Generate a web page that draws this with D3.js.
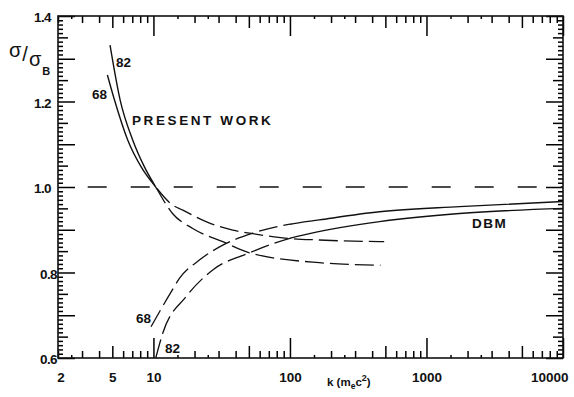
<!DOCTYPE html>
<html>
<head>
<meta charset="utf-8">
<script src="https://cdn.jsdelivr.net/npm/d3@7"></script>
<style>
  html, body { margin: 0; padding: 0; background: #fff; }
  svg { display: block; }
  text { font-family: "Liberation Sans", Arial, sans-serif; fill: #111; }
</style>
</head>
<body>
<svg id="chart" width="574" height="397"></svg>
<script>
// Cross-section ratio sigma/sigma_B versus photon energy k (in m_e c^2 units)

// Present work, Z = 68 and Z = 82 (solid below kSplitPW, dashed above)
const pw68K = [4.6, 5.18, 6.48, 8.13, 10.4, 13.8, 16.4, 24.3, 38.1, 50.5, 88.6, 164, 490];
const pw68S = [1.262, 1.204, 1.110, 1.047, 1.0, 0.958, 0.946, 0.919, 0.899, 0.892, 0.881, 0.876, 0.872];
const pw82K = [4.81, 5.70, 7.05, 8.59, 10.4, 13.8, 19.4, 32.2, 50.5, 164, 271, 460];
const pw82S = [1.332, 1.204, 1.110, 1.047, 1.0, 0.938, 0.903, 0.872, 0.846, 0.823, 0.819, 0.817];
const kSplitPW = 10.4;

// DBM, Z = 68 and Z = 82 (dashed below kSplitDBM, solid above)
const dbm68K = [9.6, 13.8, 15.5, 21.7, 32.2, 53.4, 100, 164, 453, 1746, 10000];
const dbm68S = [0.673, 0.760, 0.786, 0.829, 0.864, 0.892, 0.913, 0.923, 0.942, 0.954, 0.966];
const dbm82K = [10.4, 11.7, 17.3, 27.2, 50.5, 100, 139, 453, 1746, 10000];
const dbm82S = [0.600, 0.658, 0.743, 0.806, 0.846, 0.880, 0.891, 0.919, 0.938, 0.950];
const kSplitDBM = 100;

// Reference level sigma/sigma_B = 1
const refLevel = [1.0];

// Axis labels
const xLabelValues = [2, 5, 10, 100, 1000, 10000];
const yLabelValues = [0.6, 0.8, 1.0, 1.2, 1.4];

const width = 574, height = 397;
const margin = { top: 16, right: 11, bottom: 39, left: 58 };
const svg = d3.select("#chart");

const x = d3.scaleLog().domain([2, 10000]).range([margin.left, width - margin.right]);
const y = d3.scaleLinear().domain([0.6, 1.4]).range([height - margin.bottom, margin.top]);

const x0 = margin.left, x1 = width - margin.right;
const y0 = height - margin.bottom, y1 = margin.top;

// ---- tick classes on the log axis ----
const decades = [1, 10, 100, 1000];
const inX = v => v >= 2 - 1e-9 && v <= 10000 + 1e-9;
const xMajor = [], xMid = [], xMinor = [], xTiny = [];
decades.forEach(d => {
  [1, 2, 3, 4, 5, 6, 7, 8, 9, 1.5, 2.5].forEach(m => {
    const v = m * d;
    if (!inX(v)) return;
    if (m === 1) xMajor.push(v);
    else if (m === 5) xMid.push(v);
    else if (m === 1.5 || m === 2.5) xTiny.push(v);
    else xMinor.push(v);
  });
});
xMajor.push(10000);

// ---- tick classes on the linear axis ----
const yMajor = [], yMid = [], yMinor = [];
for (let i = 60; i <= 140; i++) {
  const v = i / 100;
  if (i % 10 === 0) yMajor.push(v);
  else if (i % 5 === 0) yMid.push(v);
  else yMinor.push(v);
}

const tickGroups = svg.append("g").attr("class", "ticks");
function xTicks(vals, len) {
  tickGroups.append("g").attr("transform", `translate(0,${y0})`)
    .call(d3.axisBottom(x).tickValues(vals).tickSizeInner(-len).tickSizeOuter(0).tickFormat(""));
  tickGroups.append("g").attr("transform", `translate(0,${y1})`)
    .call(d3.axisTop(x).tickValues(vals).tickSizeInner(-len).tickSizeOuter(0).tickFormat(""));
}
function yTicks(vals, len) {
  tickGroups.append("g").attr("transform", `translate(${x0},0)`)
    .call(d3.axisLeft(y).tickValues(vals).tickSizeInner(-len).tickSizeOuter(0).tickFormat(""));
  tickGroups.append("g").attr("transform", `translate(${x1},0)`)
    .call(d3.axisRight(y).tickValues(vals).tickSizeInner(-len).tickSizeOuter(0).tickFormat(""));
}
xTicks(xMajor, 20);
xTicks(xMid, 12);
xTicks(xMinor, 7);
xTicks(xTiny, 3);
yTicks(yMajor, 17);
yTicks(yMid, 10);
yTicks(yMinor, 5);
tickGroups.selectAll(".domain").remove();
tickGroups.selectAll("line").attr("stroke", "#000").attr("stroke-width", 1.5);

// Frame
svg.append("rect")
  .attr("x", x0).attr("y", y1)
  .attr("width", x1 - x0).attr("height", y0 - y1)
  .attr("fill", "none").attr("stroke", "#111").attr("stroke-width", 1.6);

// ---- tick labels ----
const xl = svg.append("g").attr("transform", `translate(0,${y0})`)
  .call(d3.axisBottom(x).tickValues(xLabelValues).tickSize(0).tickFormat(d3.format("d")));
xl.select(".domain").remove();
xl.selectAll("text")
  .attr("y", 24).attr("dy", 0)
  .attr("font-size", 13.5).attr("font-weight", "bold")
  .attr("font-family", "Liberation Sans, Arial, sans-serif")
  .attr("fill", "#111")
  .each(function (d) {
    const t = d3.select(this);
    if (d === 2) t.attr("dx", 2.5);
    if (d === 10000) t.attr("text-anchor", "end").attr("dx", 5);
  });

const yl = svg.append("g").attr("transform", `translate(${x0},0)`)
  .call(d3.axisLeft(y).tickValues(yLabelValues).tickSize(0).tickFormat(d3.format(".1f")));
yl.select(".domain").remove();
yl.selectAll("text")
  .attr("font-size", 13.5).attr("font-weight", "bold")
  .attr("font-family", "Liberation Sans, Arial, sans-serif")
  .attr("fill", "#111")
  .attr("letter-spacing", -0.6)
  .attr("dy", "0.42em")
  .attr("x", d => d < 0.9 ? -1 : -7);

// ---- curves: each drawn as one smooth path, split into solid and dashed parts by clipping ----
const line = d3.line()
  .x(d => x(d[0]))
  .y(d => y(d[1]))
  .curve(d3.curveMonotoneX);
const zipKS = (ks, ss) => ks.map((k, i) => [k, ss[i]]);

const defs = svg.append("defs");
function clipRange(id, kFrom, kTo) {
  defs.append("clipPath").attr("id", id).append("rect")
    .attr("x", x(kFrom)).attr("y", 0)
    .attr("width", x(kTo) - x(kFrom)).attr("height", height);
}
clipRange("pw-solid", 2, kSplitPW);
clipRange("pw-dash", kSplitPW, 10000);
clipRange("dbm-dash", 2, kSplitDBM);
clipRange("dbm-solid", kSplitDBM, 10000);

const curves = svg.append("g").attr("fill", "none").attr("stroke", "#111");
function drawCurve(ks, ss, clipId, dashed) {
  curves.append("path")
    .attr("d", line(zipKS(ks, ss)))
    .attr("clip-path", `url(#${clipId})`)
    .attr("stroke-width", dashed ? 1.3 : 1.4)
    .attr("stroke-dasharray", dashed ? "19,6" : null);
}
drawCurve(pw68K, pw68S, "pw-solid", false);
drawCurve(pw82K, pw82S, "pw-solid", false);
drawCurve(pw68K, pw68S, "pw-dash", true);
drawCurve(pw82K, pw82S, "pw-dash", true);
drawCurve(dbm68K, dbm68S, "dbm-dash", true);
drawCurve(dbm82K, dbm82S, "dbm-dash", true);
drawCurve(dbm68K, dbm68S, "dbm-solid", false);
drawCurve(dbm82K, dbm82S, "dbm-solid", false);

// Horizontal reference line at 1.0
curves.selectAll("line.ref").data(refLevel).enter().append("line")
  .attr("class", "ref")
  .attr("x1", x(3.3)).attr("x2", x1)
  .attr("y1", d => y(d)).attr("y2", d => y(d))
  .attr("stroke-width", 1.3)
  .attr("stroke-dasharray", "19,24");

// ---- annotations ----
const ann = svg.append("g").attr("font-weight", "bold").attr("font-size", 13.5);
ann.append("text").attr("x", 116).attr("y", 67).text("82");
ann.append("text").attr("x", 92).attr("y", 99).text("68");
ann.append("text").attr("x", 132).attr("y", 125).attr("letter-spacing", 2.6).text("PRESENT WORK");
ann.append("text").attr("x", 136).attr("y", 323).text("68");
ann.append("text").attr("x", 165).attr("y", 353).text("82");
ann.append("text").attr("x", 472).attr("y", 228).attr("letter-spacing", 1.5).text("DBM");

// Axis titles
const xt = svg.append("text").attr("x", 327).attr("y", 386)
  .attr("font-size", 11.5).attr("font-weight", "bold");
xt.append("tspan").text("k (m");
xt.append("tspan").attr("font-size", 8.5).attr("dy", 3).text("e");
xt.append("tspan").attr("dy", -3).text("c");
xt.append("tspan").attr("font-size", 9).attr("dy", -5).text("2");
xt.append("tspan").attr("dy", 5).text(")");

// sigma / sigma_B, set on a descending diagonal
const yt = svg.append("text").attr("x", 9).attr("y", 57)
  .attr("font-family", "DejaVu Sans, sans-serif").attr("font-size", 20);
yt.append("tspan").text("σ");
yt.append("tspan").attr("dx", 1).attr("dy", 4).text("/");
yt.append("tspan").attr("dx", 1).attr("dy", 5).text("σ");
yt.append("tspan").attr("dx", 1).attr("dy", 9).attr("font-size", 11).attr("font-weight", "bold")
  .attr("font-family", "Liberation Sans, Arial, sans-serif").text("B");
</script>
</body>
</html>
